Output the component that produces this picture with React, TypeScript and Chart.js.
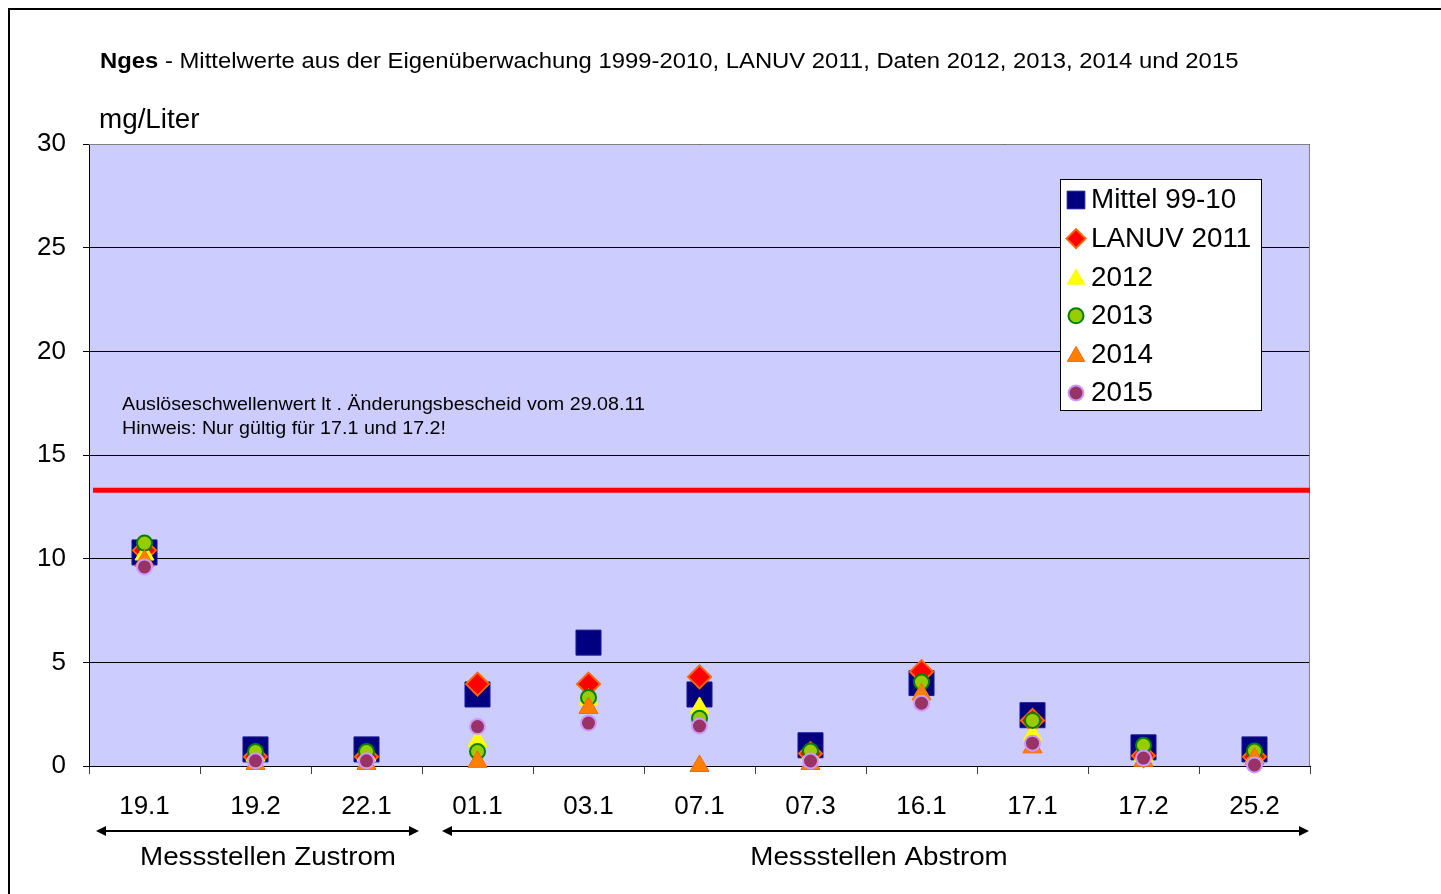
import React, { useEffect, useRef } from 'react';
import { Chart, registerables } from 'chart.js';
import { drawPoint } from 'chart.js/helpers';

Chart.register(...registerables);

// ---------- data ----------
const categories = ['19.1', '19.2', '22.1', '01.1', '03.1', '07.1', '07.3', '16.1', '17.1', '17.2', '25.2'];
const seriesLabels = ['Mittel 99-10', 'LANUV 2011', '2012', '2013', '2014', '2015'];
const mittel9910 = [10.3, 0.8, 0.8, 3.45, 5.95, 3.45, 1.0, 4.0, 2.45, 0.9, 0.8];
const lanuv2011 = [10.4, 0.45, 0.45, 3.95, 3.95, 4.3, 0.6, 4.55, 2.2, 0.5, 0.45];
const year2012 = [10.2, 0.5, 0.5, 1.2, 3.2, 2.8, 0.5, 3.45, 1.5, 0.5, 0.4];
const year2013 = [10.75, 0.7, 0.7, 0.7, 3.3, 2.3, 0.72, 4.05, 2.2, 1.0, 0.72];
const year2014 = [9.9, 0.1, 0.1, 0.2, 2.8, 0.0, 0.1, 3.45, 0.9, 0.25, 0.35];
const year2015 = [9.6, 0.25, 0.25, 1.9, 2.07, 1.93, 0.24, 3.03, 1.1, 0.38, 0.05];
const yTickValues = [0, 5, 10, 15, 20, 25, 30];
const thresholdValue = 13.3;

const titleBold = 'Nges';
const titleRest = ' - Mittelwerte aus der Eigenüberwachung 1999-2010, LANUV 2011, Daten 2012, 2013, 2014 und 2015';
const unitLabel = 'mg/Liter';
const noteLines = ['Auslöseschwellenwert lt . Änderungsbescheid vom 29.08.11', 'Hinweis: Nur gültig für 17.1 und 17.2!'];
const groupLabels = ['Messstellen Zustrom', 'Messstellen Abstrom'];
const groupFirst = [0, 3];
const groupLast = [2, 10];

// ---------- styles ----------
const FONT = '"Liberation Sans", Arial, sans-serif';
const seriesData = [mittel9910, lanuv2011, year2012, year2013, year2014, year2015];
const markerStyles = [
  { pointStyle: 'rect', radius: 17.7, bg: '#000080', border: '#1a1a99', bw: 1, legendRadius: 12.5 },
  { pointStyle: 'rectRot', radius: 11.5, bg: '#FF0000', border: '#FF6600', bw: 2, legendRadius: 9.5 },
  { pointStyle: 'triangle', radius: 11, bg: '#FFFF00', border: '#FFFF00', bw: 1, legendRadius: 10 },
  { pointStyle: 'circle', radius: 7.5, bg: '#99CC00', border: '#008000', bw: 2, legendRadius: 7.5 },
  { pointStyle: 'triangle', radius: 11, bg: '#FF8000', border: '#FF6600', bw: 1, legendRadius: 10 },
  { pointStyle: 'circle', radius: 7.5, bg: '#993366', border: '#CC99FF', bw: 2, legendRadius: 7.5 },
];

// draw text stretched horizontally by sx, left-aligned at x (or centered when center=true)
function stretchText(ctx: any, text: string, x: number, y: number, sx: number, center = false) {
  const w = ctx.measureText(text).width * sx;
  const left = center ? x - w / 2 : x;
  ctx.save();
  ctx.textAlign = 'left';
  ctx.translate(left, y);
  ctx.scale(sx, 1);
  ctx.fillText(text, 0, 0);
  ctx.restore();
  return w;
}

const decorations = {
  id: 'decorations',
  beforeDraw(chart: any) {
    const { ctx, chartArea: a } = chart;
    ctx.save();
    ctx.fillStyle = '#ffffff';
    ctx.fillRect(0, 0, chart.width, chart.height);
    ctx.strokeStyle = '#000000';
    ctx.lineWidth = 2;
    ctx.strokeRect(9, 9, chart.width + 20, chart.height + 20);
    ctx.fillStyle = '#CCCCFF';
    ctx.fillRect(a.left, a.top, a.right - a.left, a.bottom - a.top);
    ctx.restore();
  },
  beforeDatasetsDraw(chart: any) {
    const { ctx, chartArea: a } = chart;
    const yS = chart.scales.y;
    ctx.save();
    ctx.strokeStyle = '#808080';
    ctx.lineWidth = 1;
    ctx.beginPath();
    ctx.moveTo(a.left, a.top + 0.5);
    ctx.lineTo(a.right - 0.5, a.top + 0.5);
    ctx.lineTo(a.right - 0.5, a.bottom);
    ctx.stroke();
    const ty = yS.getPixelForValue(thresholdValue);
    ctx.strokeStyle = '#FF0000';
    ctx.lineWidth = 5;
    ctx.beginPath();
    ctx.moveTo(a.left + 4, ty);
    ctx.lineTo(a.right, ty);
    ctx.stroke();
    ctx.fillStyle = '#000';
    ctx.font = `18px ${FONT}`;
    ctx.textBaseline = 'middle';
    noteLines.forEach((t, i) => stretchText(ctx, t, 122, 405 + i * 24, 1.094));
    ctx.restore();
  },
  afterDraw(chart: any) {
    const { ctx } = chart;
    const xS = chart.scales.x;
    ctx.save();
    ctx.fillStyle = '#000';
    ctx.textBaseline = 'middle';
    ctx.textAlign = 'left';
    // title
    ctx.font = `bold 22px ${FONT}`;
    const w = stretchText(ctx, titleBold, 100, 62, 1.084);
    ctx.font = `22px ${FONT}`;
    stretchText(ctx, titleRest, 100 + w, 62, 1.084);
    // unit
    ctx.font = `27px ${FONT}`;
    stretchText(ctx, unitLabel, 99, 121, 1.03);

    // legend
    const lx = 1060, ly = 179, lw = 201, lh = 231;
    ctx.fillStyle = '#ffffff';
    ctx.fillRect(lx, ly, lw, lh);
    ctx.strokeStyle = '#000';
    ctx.lineWidth = 1;
    ctx.strokeRect(lx + 0.5, ly + 0.5, lw, lh);
    ctx.font = `27px ${FONT}`;
    seriesLabels.forEach((lab, i) => {
      const st = markerStyles[i];
      const yy = 200 + i * 38.6;
      ctx.fillStyle = st.bg;
      ctx.strokeStyle = st.border;
      ctx.lineWidth = st.bw;
      drawPoint(ctx, { pointStyle: st.pointStyle, radius: st.legendRadius, borderWidth: st.bw, rotation: 0 } as any, 1076, yy + (st.pointStyle === 'triangle' ? 2 : 0));
      ctx.fillStyle = '#000';
      stretchText(ctx, lab, 1091, yy + 1, 1.03);
    });

    // group arrows
    const step = xS.getPixelForValue(1) - xS.getPixelForValue(0);
    const insetStart = [7, 20];
    const insetEnd = [3, 1];
    const labelX = [268, 879];
    const ay = 831;
    groupLabels.forEach((lab, i) => {
      const x1 = xS.getPixelForValue(groupFirst[i]) - step / 2 + insetStart[i];
      const x2 = xS.getPixelForValue(groupLast[i]) + step / 2 - insetEnd[i];
      ctx.strokeStyle = '#000';
      ctx.fillStyle = '#000';
      ctx.lineWidth = 2;
      ctx.beginPath();
      ctx.moveTo(x1 + 6, ay);
      ctx.lineTo(x2 - 6, ay);
      ctx.stroke();
      ctx.beginPath();
      ctx.moveTo(x1, ay);
      ctx.lineTo(x1 + 10, ay - 5);
      ctx.lineTo(x1 + 10, ay + 5);
      ctx.closePath();
      ctx.fill();
      ctx.beginPath();
      ctx.moveTo(x2, ay);
      ctx.lineTo(x2 - 10, ay - 5);
      ctx.lineTo(x2 - 10, ay + 5);
      ctx.closePath();
      ctx.fill();
      ctx.font = `26px ${FONT}`;
      stretchText(ctx, lab, labelX[i], 858, 1.067, true);
    });
    ctx.restore();
  },
};

export default function App() {
  const ref = useRef<HTMLCanvasElement>(null);
  useEffect(() => {
    document.body.style.margin = '0';
    document.body.style.overflow = 'hidden';
    const canvas = ref.current!;
    const chart = new Chart(canvas, {
      type: 'line',
      data: {
        labels: categories,
        datasets: seriesData.map((d, i) => ({
          label: seriesLabels[i],
          data: d,
          showLine: false,
          pointStyle: markerStyles[i].pointStyle as any,
          pointRadius: markerStyles[i].radius,
          pointHoverRadius: markerStyles[i].radius,
          pointBackgroundColor: markerStyles[i].bg,
          pointBorderColor: markerStyles[i].border,
          pointBorderWidth: markerStyles[i].bw,
          backgroundColor: markerStyles[i].bg,
          borderColor: markerStyles[i].border,
          clip: false as any,
          order: seriesData.length - i,
        })),
      },
      options: {
        animation: false,
        responsive: false,
        devicePixelRatio: 1,
        events: [],
        layout: { padding: { top: 144, left: 0, right: 131, bottom: 68 } },
        plugins: { legend: { display: false }, tooltip: { enabled: false }, title: { display: false } },
        scales: {
          x: {
            type: 'category',
            offset: true,
            clip: false,
            afterFit: (s: any) => { s.height = 60; },
            grid: { offset: true, drawOnChartArea: false, tickLength: 8, color: '#404040', lineWidth: 1 },
            border: { color: '#000', width: 1 },
            ticks: { color: '#000', font: { family: FONT, size: 26 }, padding: 17, maxRotation: 0, autoSkip: false },
          },
          y: {
            min: 0,
            max: 30,
            afterFit: (s: any) => { s.width = 89; },
            afterBuildTicks: (s: any) => { s.ticks = yTickValues.map((v) => ({ value: v })); },
            grid: { color: '#000', lineWidth: 1, tickLength: 6 },
            border: { color: '#000', width: 1 },
            ticks: { color: '#000', font: { family: FONT, size: 26 }, padding: 17 },
          },
        },
      },
      plugins: [decorations],
    } as any);
    return () => chart.destroy();
  }, []);
  return <canvas ref={ref} width={1441} height={894} style={{ display: 'block' }} />;
}
